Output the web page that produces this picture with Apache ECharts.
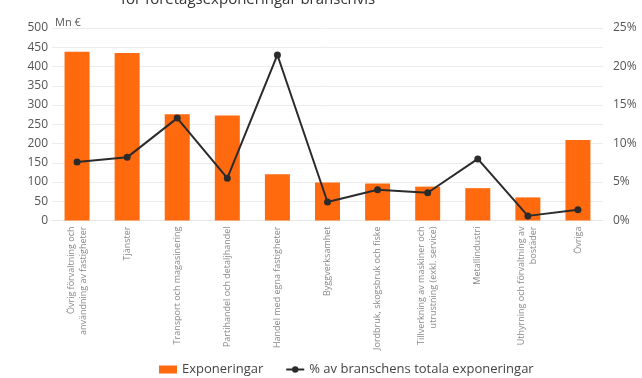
<!DOCTYPE html>
<html><head><meta charset="utf-8">
<script src="https://cdn.jsdelivr.net/npm/echarts@6/dist/echarts.min.js"></script>
<style>html,body{margin:0;padding:0;background:#fff}#c{width:642px;height:378px}</style>
</head><body><div id="c"></div>
<script>
const categories = [
  "Övrig förvaltning och\nanvändning av fastigheter",
  "Tjänster",
  "Transport och magasinering",
  "Partihandel och detaljhandel",
  "Handel med egna fastigheter",
  "Byggverksamhet",
  "Jordbruk, skogsbruk och fiske",
  "Tillverkning av maskiner och\nutrustning (exkl. service)",
  "Metallindustri",
  "Uthyrning och förvaltning av\nbostäder",
  "Övriga"
];
const exponeringar = [438, 435, 276, 273, 120, 99, 96, 88, 84, 60, 209];
const andelProcent = [7.6, 8.2, 13.3, 5.5, 21.5, 2.4, 4.0, 3.6, 8.0, 0.6, 1.4];
const leftTicks = {min: 0, max: 500, interval: 50};
const rightTicks = {min: 0, max: 25, interval: 5};

const chart = echarts.init(document.getElementById('c'), null, {renderer: 'canvas'});
chart.setOption({
  animation: false,
  textStyle: {fontFamily: 'Open Sans, DejaVu Sans, sans-serif'},
  title: {
    text: 'för företagsexponeringar branschvis',
    left: 116, top: -13,
    textStyle: {fontSize: 15, fontWeight: 'normal', color: '#333'}
  },
  grid: {left: 52, right: 39, top: 28, bottom: 157.5},
  legend: {
    bottom: -3, left: 154, itemGap: 22,
    itemWidth: 18, itemHeight: 8,
    textStyle: {fontSize: 13, color: '#444'},
    data: [
      {name: 'Exponeringar', icon: 'rect'},
      {name: '% av branschens totala exponeringar'}
    ]
  },
  xAxis: {
    type: 'category',
    data: categories,
    axisLine: {show: true, lineStyle: {color: '#e6e6e6'}},
    axisTick: {show: false},
    axisLabel: {rotate: 90, interval: 0, fontSize: 9, color: '#888', margin: 6, lineHeight: 12}
  },
  yAxis: [
    {
      type: 'value', min: leftTicks.min, max: leftTicks.max, interval: leftTicks.interval,
      name: 'Mn €', nameGap: 0, nameLocation: 'end',
      nameTextStyle: {fontSize: 11, color: '#555', align: 'left', padding: [0, 0, 0, 3]},
      axisLabel: {fontSize: 12, color: '#555', margin: 4},
      axisLine: {show: false}, axisTick: {show: false},
      splitLine: {lineStyle: {color: '#ececec'}}
    },
    {
      type: 'value', min: rightTicks.min, max: rightTicks.max, interval: rightTicks.interval,
      axisLabel: {fontSize: 12, color: '#555', margin: 10, formatter: '{value}%'},
      axisLine: {show: false}, axisTick: {show: false},
      splitLine: {show: false}
    }
  ],
  series: [
    {
      name: 'Exponeringar', type: 'bar', data: exponeringar,
      barWidth: 25, yAxisIndex: 0,
      itemStyle: {color: '#FF6A0E'}
    },
    {
      name: '% av branschens totala exponeringar', type: 'line', data: andelProcent,
      yAxisIndex: 1, symbol: 'circle', symbolSize: 7,
      lineStyle: {color: '#2b2b2b', width: 2},
      itemStyle: {color: '#2b2b2b'}
    }
  ]
});
</script></body></html>
